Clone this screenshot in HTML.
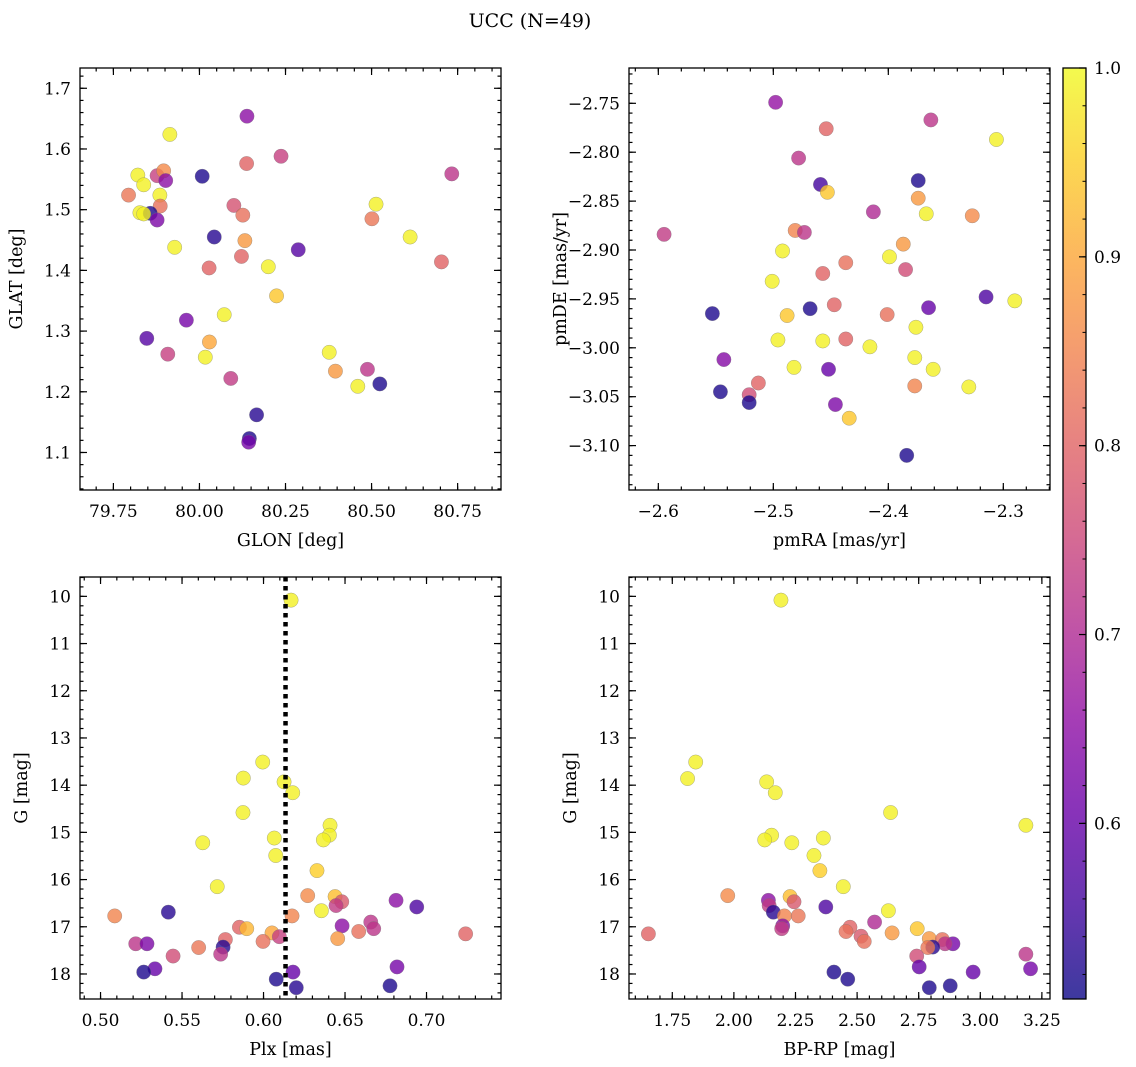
<!DOCTYPE html>
<html><head><meta charset="utf-8">
<style>
html,body{margin:0;padding:0;background:#fff;}
svg{display:block;font-family:"DejaVu Serif","Liberation Serif",serif;}
</style></head>
<body>
<svg id="chart" width="1136" height="1067" viewBox="0 0 1136 1067" xmlns="http://www.w3.org/2000/svg">
<defs>
<linearGradient id="plasma" x1="0" y1="1" x2="0" y2="0">
<stop offset="0" stop-color="#0d0887"/><stop offset="0.1" stop-color="#41049d"/><stop offset="0.2" stop-color="#6a00a8"/><stop offset="0.3" stop-color="#8f0da4"/><stop offset="0.4" stop-color="#b12a90"/><stop offset="0.5" stop-color="#cc4778"/><stop offset="0.6" stop-color="#e16462"/><stop offset="0.7" stop-color="#f2844b"/><stop offset="0.8" stop-color="#fca636"/><stop offset="0.9" stop-color="#fcce25"/><stop offset="1" stop-color="#f0f921"/>
</linearGradient>
</defs>
<text x="530" y="27" font-size="19" text-anchor="middle">UCC (N=49)</text>
<g id="layer"></g>
</svg>
<script>
// ---- data ----
const glon = [80.138,79.914,80.237,80.137,80.008,80.733,79.821,79.877,79.896,79.902,79.838,79.794,79.885,80.513,80.100,79.886,80.501,80.126,79.827,79.857,79.838,79.877,80.043,80.612,80.132,79.928,80.287,80.122,80.200,80.703,80.028,80.224,80.072,79.962,79.847,80.029,79.908,80.017,80.377,80.488,80.395,80.091,80.460,80.524,80.166,80.145,80.143];
const glat = [1.654,1.624,1.588,1.576,1.555,1.559,1.557,1.556,1.564,1.548,1.541,1.524,1.524,1.509,1.507,1.506,1.485,1.491,1.495,1.494,1.493,1.483,1.455,1.455,1.449,1.438,1.434,1.423,1.406,1.414,1.404,1.358,1.327,1.318,1.288,1.282,1.262,1.257,1.265,1.237,1.234,1.222,1.209,1.213,1.162,1.123,1.117];
const probGal = [0.65,0.99,0.74,0.8,0.52,0.72,0.99,0.74,0.86,0.65,0.99,0.83,0.99,0.99,0.77,0.82,0.83,0.82,0.99,0.52,0.99,0.63,0.53,0.99,0.88,0.99,0.58,0.8,0.99,0.8,0.8,0.94,0.99,0.62,0.58,0.9,0.74,0.99,0.99,0.72,0.88,0.73,0.99,0.52,0.53,0.52,0.62];

const pmra = [-2.498,-2.454,-2.363,-2.306,-2.478,-2.459,-2.453,-2.374,-2.374,-2.413,-2.367,-2.327,-2.595,-2.481,-2.473,-2.387,-2.492,-2.399,-2.437,-2.385,-2.457,-2.501,-2.315,-2.290,-2.447,-2.553,-2.468,-2.365,-2.488,-2.401,-2.376,-2.496,-2.457,-2.437,-2.416,-2.543,-2.377,-2.482,-2.452,-2.361,-2.513,-2.546,-2.377,-2.330,-2.521,-2.521,-2.446,-2.434,-2.384];
const pmde = [-2.749,-2.776,-2.767,-2.787,-2.806,-2.833,-2.841,-2.829,-2.847,-2.861,-2.863,-2.865,-2.884,-2.880,-2.882,-2.894,-2.901,-2.907,-2.913,-2.920,-2.924,-2.932,-2.948,-2.952,-2.956,-2.965,-2.960,-2.959,-2.967,-2.966,-2.979,-2.992,-2.993,-2.991,-2.999,-3.012,-3.010,-3.020,-3.022,-3.022,-3.036,-3.045,-3.039,-3.040,-3.048,-3.056,-3.058,-3.072,-3.110];
const probPm = [0.66,0.8,0.72,0.99,0.72,0.56,0.94,0.52,0.88,0.7,0.99,0.86,0.73,0.85,0.72,0.88,0.99,0.99,0.82,0.76,0.8,0.99,0.57,0.99,0.8,0.52,0.52,0.6,0.94,0.82,0.99,0.99,0.99,0.8,0.99,0.64,0.99,0.99,0.6,0.99,0.8,0.52,0.85,0.99,0.76,0.52,0.63,0.94,0.52];

const plx = [0.6169,0.5995,0.5876,0.6126,0.6179,0.5874,0.6408,0.6404,0.6367,0.6066,0.5627,0.6075,0.6328,0.5716,0.6271,0.6439,0.6480,0.6445,0.6355,0.6813,0.6940,0.5416,0.5087,0.6175,0.6482,0.6658,0.6676,0.5852,0.5897,0.6052,0.6097,0.5997,0.5766,0.6584,0.6455,0.7240,0.5216,0.5285,0.5752,0.5602,0.5737,0.5445,0.5334,0.5265,0.6819,0.6181,0.6078,0.6201,0.6776];
const gmag = [10.08,13.51,13.85,13.93,14.16,14.58,14.85,15.06,15.16,15.12,15.22,15.49,15.81,16.15,16.34,16.36,16.47,16.55,16.66,16.44,16.58,16.69,16.77,16.77,16.98,16.90,17.04,17.01,17.04,17.13,17.21,17.31,17.27,17.10,17.25,17.15,17.36,17.36,17.43,17.44,17.58,17.62,17.89,17.96,17.85,17.96,18.11,18.29,18.25];
const probPlx = [0.99,0.99,0.99,0.99,0.99,0.99,0.99,0.99,0.99,0.99,0.99,0.99,0.95,0.99,0.86,0.93,0.78,0.73,0.99,0.65,0.57,0.53,0.85,0.85,0.65,0.72,0.72,0.8,0.92,0.9,0.74,0.82,0.8,0.82,0.88,0.8,0.72,0.63,0.53,0.83,0.72,0.76,0.6,0.52,0.62,0.6,0.52,0.53,0.52];
const plxRef = [0.6135];

const bprp = [2.191,1.845,1.812,2.133,2.168,2.636,3.185,2.153,2.125,2.363,2.235,2.325,2.349,2.444,1.975,2.228,2.244,2.140,2.143,2.627,2.373,2.160,2.205,2.261,2.571,2.198,2.194,2.471,2.455,2.744,2.642,2.516,2.529,2.793,2.846,2.889,2.857,2.807,2.787,2.742,3.185,1.653,2.752,3.204,2.406,2.971,2.462,2.793,2.878];
const gmag2 = [10.08,13.51,13.86,13.93,14.16,14.58,14.85,15.06,15.16,15.12,15.22,15.49,15.81,16.15,16.34,16.36,16.47,16.44,16.55,16.66,16.58,16.69,16.77,16.77,16.90,16.98,17.04,17.01,17.10,17.04,17.13,17.20,17.31,17.25,17.27,17.36,17.36,17.43,17.44,17.62,17.58,17.15,17.85,17.89,17.96,17.96,18.11,18.29,18.25];
const probCmd = [0.99,0.99,0.99,0.99,0.99,0.99,0.99,0.99,0.99,0.99,0.99,0.99,0.95,0.99,0.86,0.93,0.78,0.65,0.73,0.99,0.57,0.53,0.85,0.83,0.7,0.65,0.73,0.8,0.82,0.94,0.88,0.78,0.82,0.88,0.82,0.62,0.72,0.53,0.83,0.76,0.72,0.8,0.6,0.62,0.52,0.6,0.52,0.52,0.52];

const cbTicks = [0.6,0.7,0.8,0.9,1.0];
const cbRange = [0.507,1.0];

// ---- helpers ----
const NS = "http://www.w3.org/2000/svg";
const layer = document.getElementById("layer");
function mk(tag, attrs, parent){const e=document.createElementNS(NS,tag);for(const k in attrs)e.setAttribute(k,attrs[k]);(parent||layer).appendChild(e);return e;}
const stops=[[0,[13,8,135]],[0.1,[65,4,157]],[0.2,[106,0,168]],[0.3,[143,13,164]],[0.4,[177,42,144]],[0.5,[204,71,120]],[0.6,[225,100,98]],[0.7,[242,132,75]],[0.8,[252,166,54]],[0.9,[252,206,37]],[1,[240,249,33]]];
function plasma(v){let t=(v-cbRange[0])/(cbRange[1]-cbRange[0]);t=Math.max(0,Math.min(1,t));for(let i=1;i<stops.length;i++){if(t<=stops[i][0]){const a=stops[i-1],b=stops[i];const f=(t-a[0])/(b[0]-a[0]);const c=a[1].map((x,j)=>Math.round(x+(b[1][j]-x)*f));return `rgb(${c[0]},${c[1]},${c[2]})`;}}return "rgb(240,249,33)";}
function fmt(v,d){const s=Math.abs(v).toFixed(d);return (v<-1e-9?"\u2212":"")+s;}

function panel(cfg){
  const {name,x0,x1,y0,y1,xd,yd,xs,ys,xlab,ylab,xmaj,xmin,ymaj,ymin,xdec,ydec,yInv}=cfg;
  const sx=v=>x0+(v-xd[0])/(xd[1]-xd[0])*(x1-x0);
  const sy=yInv?(v=>y0+(v-yd[0])/(yd[1]-yd[0])*(y1-y0)):(v=>y1-(v-yd[0])/(yd[1]-yd[0])*(y1-y0));
  const g=mk("g",{});
  
  
  function ticks(lo,hi,step,len,axis){
    const start=Math.ceil(lo/step-1e-6)*step;
    for(let v=start;v<=hi+1e-9;v+=step){
      if(axis==="x"){const p=sx(v);mk("line",{x1:p,x2:p,y1:y1,y2:y1-len,stroke:"#000","stroke-width":1.2},g);mk("line",{x1:p,x2:p,y1:y0,y2:y0+len,stroke:"#000","stroke-width":1.2},g);}
      else{const p=sy(v);mk("line",{x1:x0,x2:x0+len,y1:p,y2:p,stroke:"#000","stroke-width":1.2},g);mk("line",{x1:x1,x2:x1-len,y1:p,y2:p,stroke:"#000","stroke-width":1.2},g);}
    }
  }
  ticks(xd[0],xd[1],xmin,3.5,"x");ticks(xd[0],xd[1],xmaj,7,"x");
  const ylo=Math.min(yd[0],yd[1]),yhi=Math.max(yd[0],yd[1]);
  ticks(ylo,yhi,ymin,3.5,"y");ticks(ylo,yhi,ymaj,7,"y");
  for(let v=Math.ceil(xd[0]/xmaj-1e-6)*xmaj;v<=xd[1]+1e-9;v+=xmaj){
    const t=mk("text",{x:sx(v),y:y1+27,"font-size":17,"text-anchor":"middle"},g);t.textContent=fmt(v,xdec);
    
    
  }
  for(let v=Math.ceil(ylo/ymaj-1e-6)*ymaj;v<=yhi+1e-9;v+=ymaj){
    const t=mk("text",{x:x0-9,y:sy(v)+6,"font-size":17,"text-anchor":"end"},g);t.textContent=fmt(v,ydec);
    
    
  }
  const xl=mk("text",{x:(x0+x1)/2,y:y1+56,"font-size":17.5,"text-anchor":"middle"},g);xl.textContent=xlab;
  
  
  const yx=cfg.ylabX, yc=(y0+y1)/2;
  const yl=mk("text",{x:yx,y:yc,"font-size":17.5,"text-anchor":"middle",transform:`rotate(-90 ${yx} ${yc})`},g);yl.textContent=ylab;
  
  
  for(let i=0;i<xs.length;i++){
    const c=mk("circle",{cx:sx(xs[i]),cy:sy(ys[i]),r:7.2,fill:plasma(cfg.ps[i]),"fill-opacity":0.8,stroke:"#777","stroke-width":0.5,"stroke-opacity":0.6},g);
    
    
  }
  if(cfg.vline!==undefined){
    const p=sx(cfg.vline);
    const l=mk("line",{x1:p,x2:p,y1:y0,y2:y1,stroke:"#000","stroke-width":4.5,"stroke-dasharray":"4.5 4.5"},g);
    
    
  }
  mk("rect",{x:x0,y:y0,width:x1-x0,height:y1-y0,fill:"none",stroke:"#000","stroke-width":1.3},g);
}

panel({name:"glon-glat-panel",x0:80,x1:501,y0:68,y1:490,xd:[79.653,80.876],yd:[1.0382,1.7334],xs:glon,ys:glat,ps:probGal,xlab:"GLON [deg]",ylab:"GLAT [deg]",xmaj:0.25,xmin:0.05,ymaj:0.1,ymin:0.02,xdec:2,ydec:1,ylabX:22});
panel({name:"proper-motion-panel",x0:629,x1:1050,y0:68,y1:490,xd:[-2.6255,-2.2594],yd:[-3.1454,-2.7139],xs:pmra,ys:pmde,ps:probPm,xlab:"pmRA [mas/yr]",ylab:"pmDE [mas/yr]",xmaj:0.1,xmin:0.02,ymaj:0.05,ymin:0.01,xdec:1,ydec:2,ylabX:566});
panel({name:"parallax-panel",x0:80,x1:501,y0:577,y1:999,xd:[0.4874,0.7457],yd:[9.59,18.53],yInv:true,xs:plx,ys:gmag,ps:probPlx,xlab:"Plx [mas]",ylab:"G [mag]",xmaj:0.05,xmin:0.01,ymaj:1,ymin:0.2,xdec:2,ydec:0,ylabX:27,vline:plxRef[0]});
panel({name:"cmd-panel",x0:629,x1:1050,y0:577,y1:999,xd:[1.5743,3.2829],yd:[9.59,18.53],yInv:true,xs:bprp,ys:gmag2,ps:probCmd,xlab:"BP-RP [mag]",ylab:"G [mag]",xmaj:0.25,xmin:0.05,ymaj:1,ymin:0.2,xdec:2,ydec:0,ylabX:576});

const cb=mk("g",{});


const cbx0=1063,cbx1=1086,cby0=68,cby1=999;
const r=mk("rect",{x:cbx0,y:cby0,width:cbx1-cbx0,height:cby1-cby0,fill:"url(#plasma)","fill-opacity":0.8},cb);


const cy=v=>cby1-(v-cbRange[0])/(cbRange[1]-cbRange[0])*(cby1-cby0);
for(let v=0.52;v<=1.0001;v+=0.02){mk("line",{x1:cbx1,x2:cbx1-3.5,y1:cy(v),y2:cy(v),stroke:"#000","stroke-width":1},cb);}
for(const v of cbTicks){
  mk("line",{x1:cbx1,x2:cbx1-7,y1:cy(v),y2:cy(v),stroke:"#000","stroke-width":1.2},cb);
  const t=mk("text",{x:cbx1+8,y:cy(v)+6,"font-size":17},cb);t.textContent=v.toFixed(1);
  
  
}
mk("rect",{x:cbx0,y:cby0,width:cbx1-cbx0,height:cby1-cby0,fill:"none",stroke:"#000","stroke-width":1.3},cb);
</script>
</body></html>
